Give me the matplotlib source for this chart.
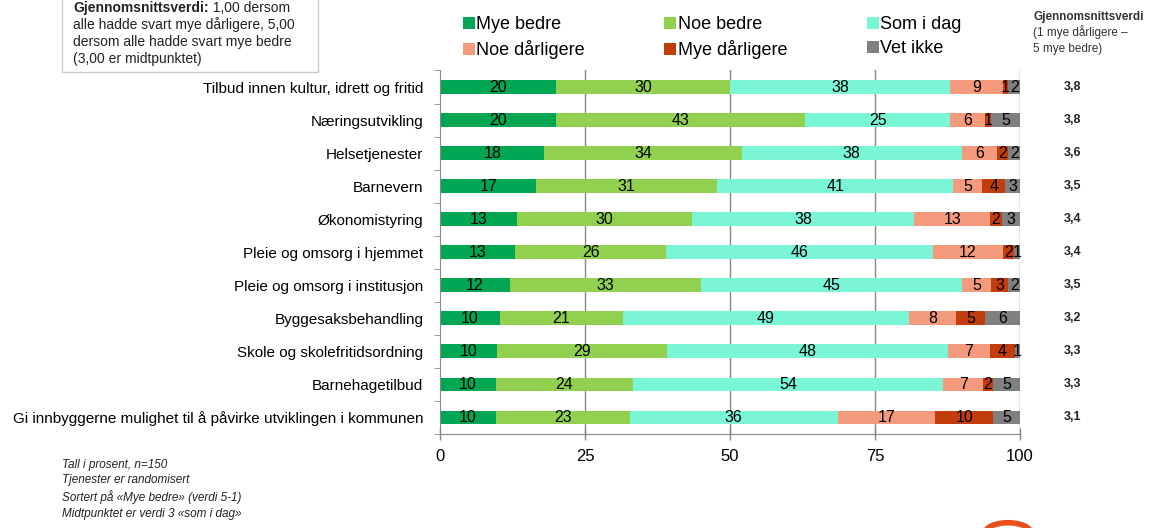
import matplotlib
matplotlib.use("Agg")
import matplotlib.pyplot as plt
from matplotlib.patches import Circle, Rectangle
import numpy as np

plt.rcParams["font.family"] = ["Liberation Sans", "DejaVu Sans"]

categories = [
    "Tilbud innen kultur, idrett og fritid",
    "Næringsutvikling",
    "Helsetjenester",
    "Barnevern",
    "Økonomistyring",
    "Pleie og omsorg i hjemmet",
    "Pleie og omsorg i institusjon",
    "Byggesaksbehandling",
    "Skole og skolefritidsordning",
    "Barnehagetilbud",
    "Gi innbyggerne mulighet til å påvirke utviklingen i kommunen",
]
# percentages (labels in the chart are these values rounded)
mye_bedre = [20, 20, 18, 16.6, 13.3, 13, 12, 10.3, 9.8, 9.6, 9.6]
noe_bedre = [30, 43, 34, 31.2, 30.2, 26, 33, 21.2, 29.4, 23.6, 23.1]
som_i_dag = [38, 25, 38, 40.7, 38.3, 46, 45, 49.3, 48.3, 53.6, 35.9]
noe_darligere = [9, 6, 6, 5.0, 13.0, 12, 5, 8.2, 7.3, 6.9, 16.8]
mye_darligere = [1, 1, 2, 3.9, 2.1, 2, 3, 4.9, 4.3, 1.6, 10.0]
vet_ikke = [2, 5, 2, 2.6, 3.1, 1, 2, 6.1, 0.9, 4.7, 4.6]
averages = ["3,8", "3,8", "3,6", "3,5", "3,4", "3,4", "3,5", "3,2", "3,3", "3,3", "3,1"]

series = [
    ("Mye bedre", mye_bedre, "#00a651"),
    ("Noe bedre", noe_bedre, "#92d050"),
    ("Som i dag", som_i_dag, "#7af5d6"),
    ("Noe dårligere", noe_darligere, "#f59a7c"),
    ("Mye dårligere", mye_darligere, "#c33c0c"),
    ("Vet ikke", vet_ikke, "#808080"),
]

W, H = 1151, 528
fig = plt.figure(figsize=(W / 100, H / 100), dpi=100)
ax = fig.add_axes([0.3823, 0.178, 0.5039, 0.6885])


def fy(px):
    # pixel row from top -> figure fraction
    return 1 - px / H


y = np.arange(len(categories))
left = np.zeros(len(categories))
handles = {}
for name, vals, col in series:
    vals = np.array(vals, dtype=float)
    handles[name] = ax.barh(y, vals, left=left, height=0.42, color=col, zorder=2)
    for yi, (l, v) in enumerate(zip(left, vals)):
        ax.text(l + v / 2, yi, f"{int(v + 0.5)}", ha="center", va="center",
                fontsize=11.5, color="black", zorder=3)
    left += vals

ax.set_xlim(0, 100)
ax.set_ylim(len(categories) - 0.5, -0.5)
ax.set_xticks([0, 25, 50, 75, 100])
ax.tick_params(axis="x", direction="inout", length=8, width=1, color="#888888",
               labelsize=12, pad=7)
ax.set_yticks(y)
ax.set_yticklabels(categories, fontsize=11)
ax.set_yticks(np.arange(len(categories) + 1) - 0.5, minor=True)
ax.tick_params(axis="y", which="major", length=0, pad=12)
ax.tick_params(axis="y", which="minor", length=4, color="#888888", direction="out")
for xg in [25, 50, 75, 100]:
    ax.axvline(xg, color="#888888", lw=1, zorder=1)
for s in ["top", "right"]:
    ax.spines[s].set_visible(False)
for s in ["left", "bottom"]:
    ax.spines[s].set_color("#888888")

# averages column
for yi, a in enumerate(averages):
    ax.text(1.09, yi, a, transform=ax.get_yaxis_transform(), ha="center", va="center",
            fontsize=9, fontweight="bold", color="#222222")
fig.text(1033 / W, fy(20), "Gjennomsnittsverdi", fontsize=8.5, fontweight="bold",
         color="#333333", ha="left", va="baseline")
fig.text(1033 / W, fy(36), "(1 mye dårligere –", fontsize=8.5,
         color="#333333", ha="left", va="baseline")
fig.text(1033 / W, fy(52), "5 mye bedre)", fontsize=8.5,
         color="#333333", ha="left", va="baseline")

# legend
order = ["Mye bedre", "Noe dårligere", "Noe bedre", "Mye dårligere", "Som i dag", "Vet ikke"]
fig.legend([handles[n] for n in order], order, ncol=3, loc="upper left",
           bbox_to_anchor=(0.388, 1.0), frameon=False, fontsize=13,
           handlelength=0.65, handleheight=0.65, handletextpad=0.1,
           columnspacing=4.4, labelspacing=0.4)

# info box top-left
fig.patches.append(Rectangle((62 / W, fy(72)), (318 - 62) / W, 80 / H,
                             transform=fig.transFigure, fc="white", ec="#cccccc",
                             lw=1, zorder=0))
box_size = 10
t_bold = fig.text(73 / W, fy(12), "Gjennomsnittsverdi:", fontsize=box_size,
                  fontweight="bold", color="#222222", ha="left", va="baseline")
renderer = fig.canvas.get_renderer()
x_end = t_bold.get_window_extent(renderer=renderer).x1
fig.text(x_end / W, fy(12), " 1,00 dersom", fontsize=box_size, color="#222222",
         ha="left", va="baseline")
box_lines = ["alle hadde svart mye dårligere, 5,00",
             "dersom alle hadde svart mye bedre",
             "(3,00 er midtpunktet)"]
for i, line in enumerate(box_lines):
    fig.text(73 / W, fy(29 + 17 * i), line, fontsize=box_size, color="#222222",
             ha="left", va="baseline")

# notes
fig.text(0.054, 0.015,
         "Tall i prosent, n=150\nTjenester er randomisert\n"
         "Sortert på «Mye bedre» (verdi 5-1)\nMidtpunktet er verdi 3 «som i dag»",
         fontsize=8.5, style="italic", ha="left", va="bottom", color="#222222",
         linespacing=1.4)

# logo fragment
fig.patches.append(Circle((1008 / W, -0.01), 0.02, transform=fig.transFigure,
                          fc="none", ec="#e8501a", lw=4, clip_on=False))

fig.savefig("out.png", dpi=100)
